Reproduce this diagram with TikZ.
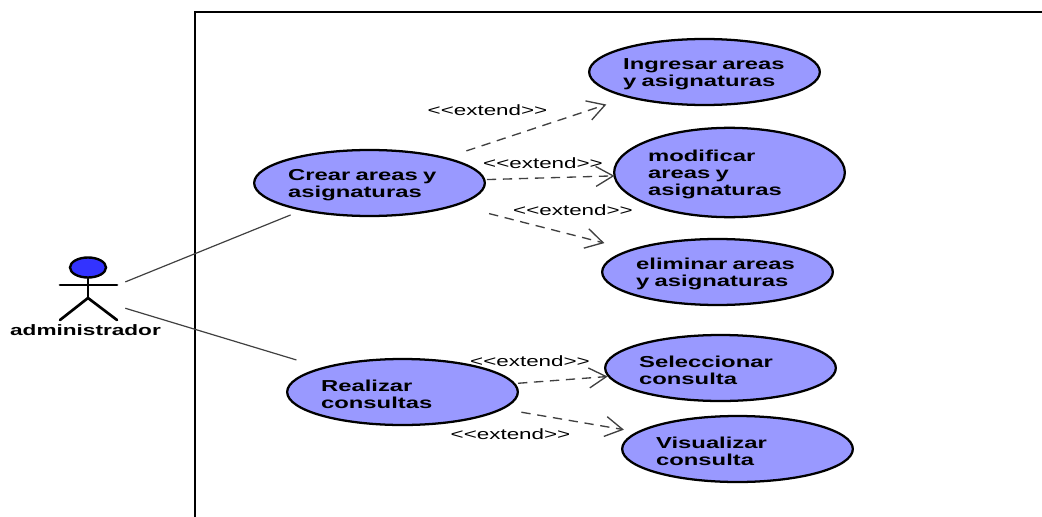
\documentclass[tikz,border=0pt]{standalone}
\usepackage{fontspec}
\setmainfont{Liberation Sans}[FakeStretch=1.5]
\usetikzlibrary{shapes.geometric,arrows.meta}
\definecolor{casofill}{HTML}{9999FF}
\definecolor{headfill}{HTML}{3333FF}
\newcommand{\extiendetxt}{{<}{<}extend{>}{>}}
\tikzset{
	caso/.style={ellipse,draw=black,line width=1.7pt,fill=casofill,inner sep=0pt,outer sep=0pt,
		minimum width=173pt,minimum height=49.5pt,text width=122pt,align=left,
		execute at begin node={\lineskiplimit=-20pt\rule{0pt}{11.7pt}},
		font=\fontsize{11.9}{12.75}\selectfont\bfseries},
	etiqueta/.style={inner sep=0pt,font=\fontsize{11.2}{12}\selectfont},
	extiende/.style={dashed,dash pattern=on 7pt off 5pt,draw=black!75,line width=1pt,
		-{Straight Barb[length=13pt,width=15pt,line width=1pt]}},
	asocia/.style={draw=black!75,line width=.9pt},
	monigote/.style={line width=2pt,line cap=round}
}
\begin{document}
\begin{tikzpicture}[x=.75pt,y=-.75pt]
	   \useasboundingbox(0,0)rectangle(1042,517);
	   \coordinate(esquina) at (195,12);
	   \coordinate(abajo) at (195,517);
	   \coordinate(derecha) at (1042,12);
	   \draw[line width=1pt](abajo)--(esquina)--(derecha);

	   % casos de uso
	   \node[caso](crear) at (369.5,183){Crear areas y\\asignaturas};
	   \node[caso](realizar) at (402.5,392){Realizar\\consultas};
	   \node[caso](ingresar) at (704.5,72){Ingresar areas\\y asignaturas};
	   \node[caso,minimum height=67pt](modificar) at (729.5,172.5){modificar\\areas y\\asignaturas};
	   \node[caso](eliminar) at (717.5,272){eliminar areas\\y asignaturas};
	   \node[caso](seleccionar) at (720.5,368){Seleccionar\\consulta};
	   \node[caso](visualizar) at (737.5,449){Visualizar\\consulta};

	   % actor
	   \node[minimum width=55.5pt,minimum height=75pt,inner sep=0pt](actor) at (88,297){};
	   \coordinate(cadera) at (88,298);
	   \coordinate(manoi) at (60,285);
	   \coordinate(manod) at (117,285);
	   \coordinate(pieI) at (60,320);
	   \coordinate(pieD) at (117,320);
	   \node[ellipse,draw=black,line width=1.8pt,fill=headfill,minimum width=27pt,minimum height=15pt,inner sep=0pt](cabeza) at (88,267.5){};
	   \draw[monigote](cabeza)--(cadera);
	   \draw[monigote](manoi)--(manod);
	   \draw[monigote](pieI)--(cadera)--(pieD);
	   \node[inner sep=0pt,font=\fontsize{11.3}{12}\selectfont\bfseries](admin) at (85.5,330){administrador};

	   % asociaciones
	   \draw[asocia,shorten <=0pt,shorten >=10pt](actor)--(crear);
	   \draw[asocia,shorten <=0pt,shorten >=21pt](actor)--(realizar);

	   % extend
	   \draw[extiende,shorten <=17pt,shorten >=18pt](crear)--(ingresar);
	   \draw[extiende,shorten <=2pt](crear)--(modificar);
	   \draw[extiende,shorten <=26pt,shorten >=21pt](crear)--(eliminar);
	   \draw[extiende,shorten <=3pt,shorten >=1pt](realizar)--(seleccionar);
	   \draw[extiende,shorten <=15pt,shorten >=11pt](realizar)--(visualizar);

	   \node[etiqueta](ext1) at (487.5,110){\extiendetxt};
	   \node[etiqueta](ext2) at (543,163){\extiendetxt};
	   \node[etiqueta](ext3) at (573,210){\extiendetxt};
	   \node[etiqueta](ext4) at (530,361){\extiendetxt};
	   \node[etiqueta](ext5) at (510.5,434){\extiendetxt};
	\end{tikzpicture}
\end{document}
